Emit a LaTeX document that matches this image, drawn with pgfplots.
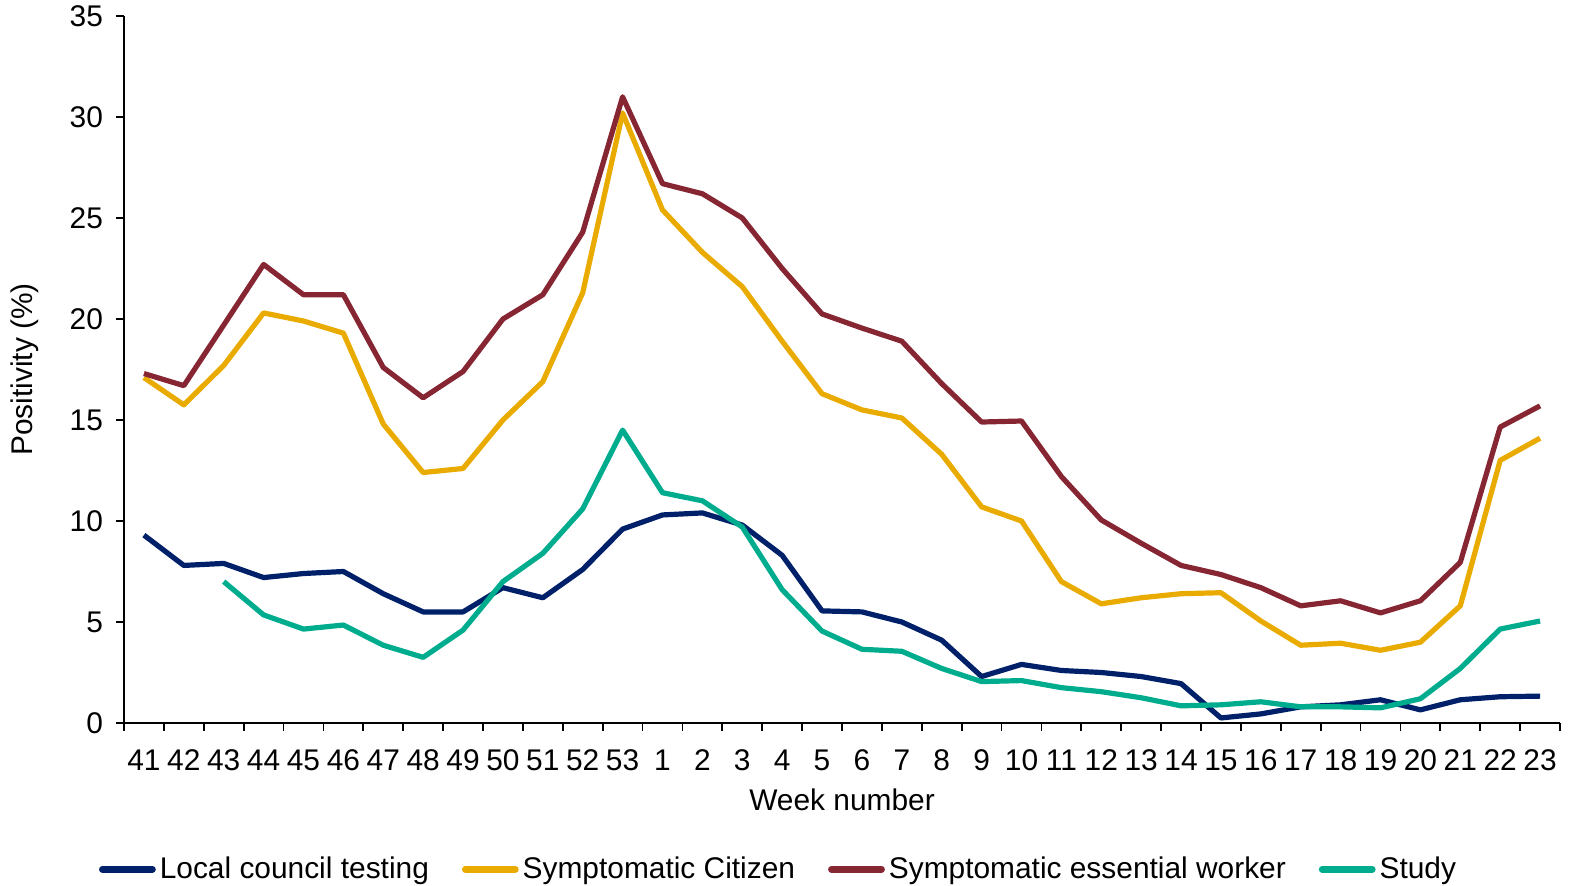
\documentclass[border=0pt]{standalone}
\usepackage{fontspec}
\setmainfont{Liberation Sans}
\usepackage{pgfplots}
\pgfplotsset{compat=1.18}

\definecolor{cnavy}{RGB}{0,33,105}
\definecolor{cgold}{RGB}{234,171,0}
\definecolor{cmaroon}{RGB}{135,38,51}
\definecolor{cteal}{RGB}{0,172,142}

% x: 0 = week 41 ... 12 = week 53, 13 = week 1 ... 35 = week 23
\pgfplotstableread{
x  local  citizen  essential
0  9.3    17.1     17.3
1  7.8    15.75    16.7
2  7.9    17.7     19.7
3  7.2    20.3     22.7
4  7.4    19.9     21.2
5  7.5    19.3     21.2
6  6.4    14.8     17.6
7  5.5    12.4     16.1
8  5.5    12.6     17.4
9  6.7    15.0     20.0
10 6.2    16.9     21.2
11 7.6    21.3     24.3
12 9.6    30.2     31.0
13 10.3   25.4     26.7
14 10.4   23.3     26.2
15 9.8    21.6     25.0
16 8.3    18.9     22.5
17 5.55   16.3     20.25
18 5.5    15.5     19.55
19 5.0    15.1     18.9
20 4.1    13.3     16.8
21 2.3    10.7     14.9
22 2.9    10.0     14.95
23 2.6    7.0      12.2
24 2.5    5.9      10.05
25 2.3    6.2      8.9
26 1.95   6.4      7.8
27 0.25   6.45     7.35
28 0.45   5.05     6.7
29 0.8    3.85     5.8
30 0.9    3.95     6.05
31 1.15   3.6      5.45
32 0.65   4.0      6.05
33 1.15   5.8      7.95
34 1.3    13.0     14.65
35 1.33   14.1     15.7
}\mainseries

\pgfplotstableread{
x  study
2  7.0
3  5.35
4  4.65
5  4.85
6  3.85
7  3.25
8  4.6
9  7.0
10 8.4
11 10.6
12 14.5
13 11.4
14 11.0
15 9.7
16 6.6
17 4.55
18 3.65
19 3.55
20 2.7
21 2.05
22 2.1
23 1.75
24 1.55
25 1.25
26 0.85
27 0.9
28 1.05
29 0.8
30 0.8
31 0.75
32 1.2
33 2.7
34 4.65
35 5.05
}\studyseries

\begin{document}
\begin{tikzpicture}
\begin{axis}[
    scale only axis,
    width=718bp, height=353.5bp,
    font=\fontsize{15}{18}\selectfont,
    /pgf/number format/assume math mode=true,
    xmin=-0.5, xmax=35.5,
    ymin=0, ymax=35,
    axis x line*=bottom,
    axis y line*=left,
    axis line style={black, line width=0.9bp},
    tick align=outside,
    major tick length=4bp,
    tick style={black, line width=0.9bp},
    ytick={0,5,...,35},
    yticklabel style={xshift=-3bp},
    xtick={-0.5,0.5,...,35.5},
    xticklabels={},
    extra x ticks={0,...,35},
    extra x tick labels={41,42,43,44,45,46,47,48,49,50,51,52,53,1,2,3,4,5,6,7,8,9,10,11,12,13,14,15,16,17,18,19,20,21,22,23},
    extra x tick style={major tick length=0pt},
    xticklabel style={yshift=-10bp},
    xlabel={Week number},
    ylabel={Positivity (\%)},
    xlabel style={at={(axis description cs:0.5,-0.109)}, anchor=center},
    ylabel style={at={(axis description cs:-0.0689,0.5)}, anchor=center},
    legend columns=4,
    legend style={draw=none, at={(axis description cs:0.4565,-0.207)}, anchor=center,
        font=\fontsize{15}{18}\selectfont,
        /tikz/every even column/.append style={column sep=14.5bp}},
    legend image code/.code={\draw[#1, line width=3.4bp, line cap=round] (0bp,0bp) -- (25bp,0bp);},
    every axis plot/.append style={line width=2.6bp, line join=round, no markers},
]
\addplot[cnavy] table[x=x, y=local] {\mainseries};
\addlegendentry{Local council testing}
\addplot[cgold] table[x=x, y=citizen] {\mainseries};
\addlegendentry{Symptomatic Citizen}
\addplot[cmaroon] table[x=x, y=essential] {\mainseries};
\addlegendentry{Symptomatic essential worker}
\addplot[cteal] table[x=x, y=study] {\studyseries};
\addlegendentry{Study}
\coordinate (bl) at (rel axis cs:0,0);
\end{axis}
\pgfresetboundingbox
\path[shift={(bl)}] (-62bp,-81.5bp) rectangle (726.5bp,361.5bp);
\end{tikzpicture}
\end{document}
